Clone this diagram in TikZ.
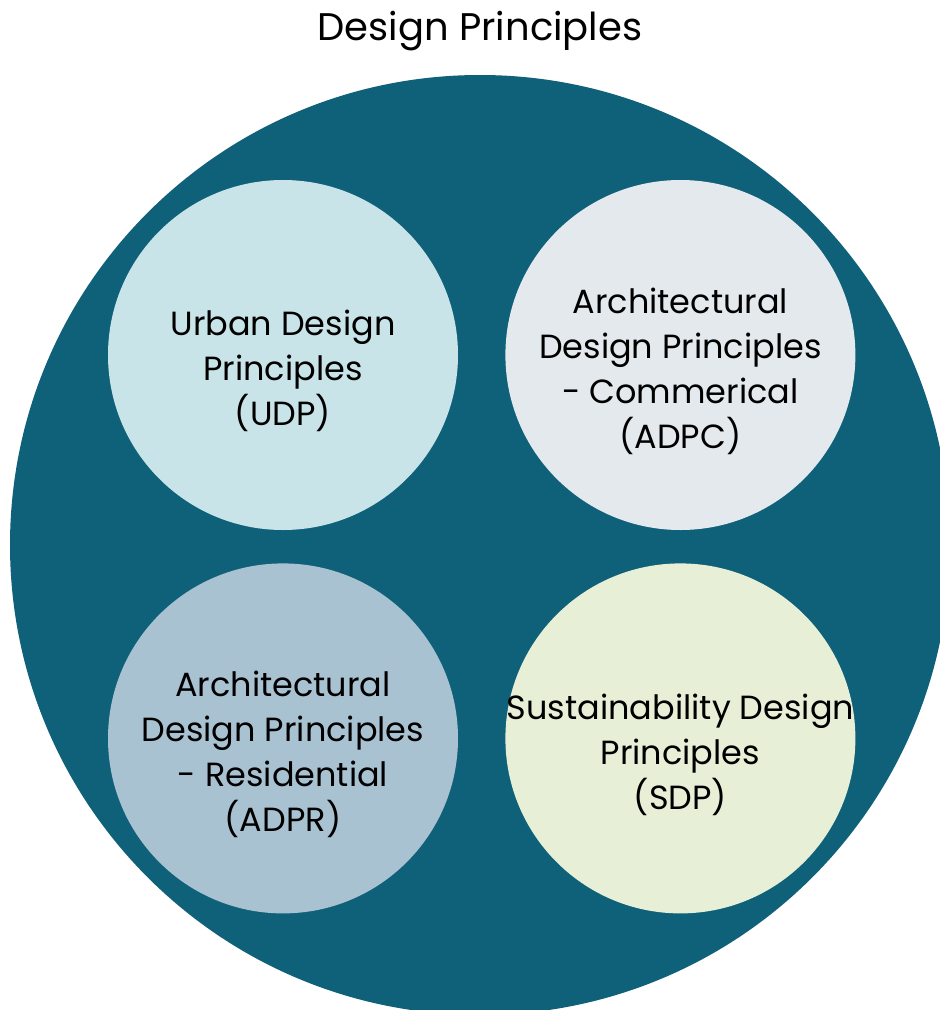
\documentclass[tikz,border=0pt]{standalone}
\usepackage{fontspec}
\setmainfont{Poppins}
\usetikzlibrary{positioning}
\definecolor{outerteal}{HTML}{0F6079}
\definecolor{udpcol}{HTML}{C8E4E8}
\definecolor{adpccol}{HTML}{E3E9EC}
\definecolor{adprcol}{HTML}{A9C2D2}
\definecolor{sdpcol}{HTML}{E7F0D6}
\tikzset{x=1pt, y=-1pt,
principle/.style={
circle,
minimum size=350pt,
inner sep=0pt,
fill=#1},
principle text/.style={
align=center,
yshift=-16pt,
font=\fontsize{33.5}{45}\selectfont},
node distance=47pt and 47pt}

\begin{document}
\begin{tikzpicture}
\useasboundingbox (0,0) rectangle (940,1010);
\clip (0,0) rectangle (940,1010);
\fill[outerteal] (480,545) circle[radius=470pt];
\node[font=\fontsize{38.5}{48}\selectfont] (title) at (480,31) {Design Principles};
% the four principle circles
\node[principle=udpcol] (udp) at (283,355) {};
\node[principle=adpccol, right=of udp] (adpc) {};
\node[principle=adprcol, below=33pt of udp] (adpr) {};
\node[principle=sdpcol, right=of adpr] (sdp) {};
% their labels
\node[principle text] (udp text) at (udp) {Urban Design\\Principles\\(UDP)};
\node[principle text] (adpc text) at (adpc) {Architectural\\Design Principles\\- Commerical\\(ADPC)};
\node[principle text] (adpr text) at (adpr) {Architectural\\Design Principles\\- Residential\\(ADPR)};
\node[principle text] (sdp text) at (sdp) {Sustainability Design\\Principles\\(SDP)};
\end{tikzpicture}
\end{document}
